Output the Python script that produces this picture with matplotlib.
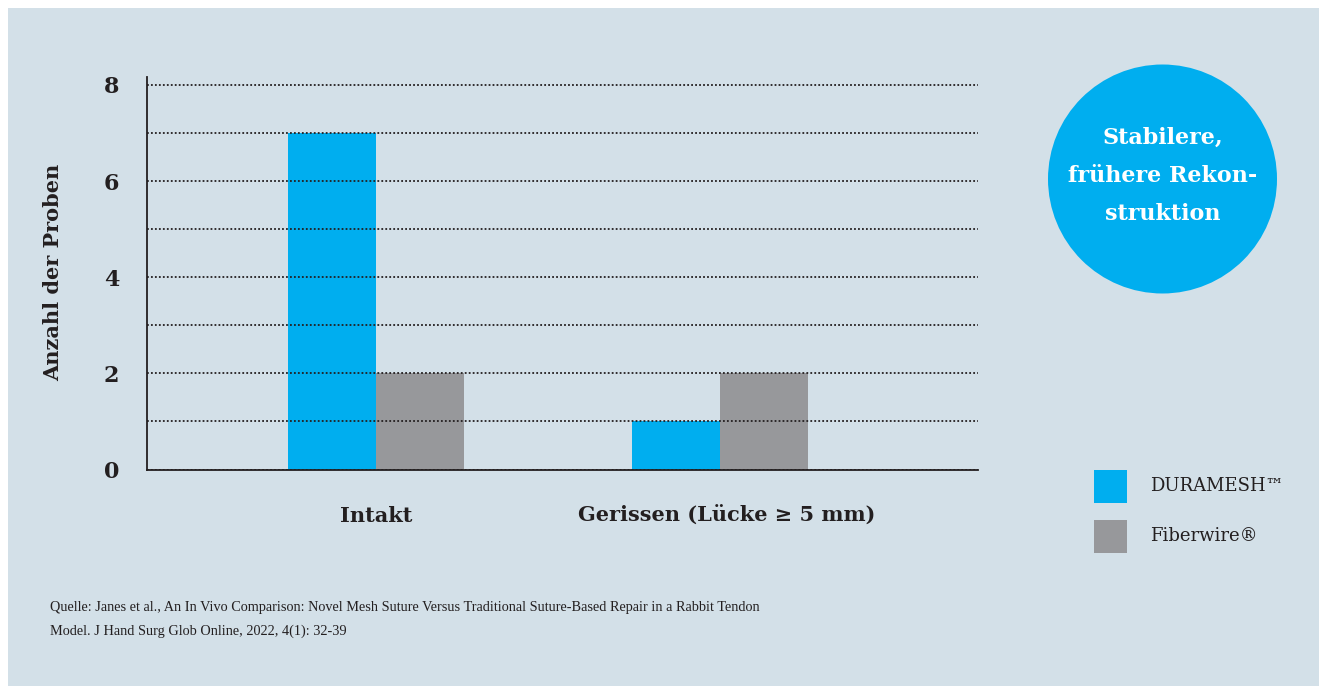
import matplotlib
matplotlib.use("Agg")
import matplotlib.pyplot as plt
from matplotlib.patches import Rectangle, Ellipse
import matplotlib.transforms as mtransforms
import numpy as np

# data
categories = ["Intakt", "Gerissen (Lücke ≥ 5 mm)"]
duramesh = [7, 1]
fiberwire = [2, 2]
series_names = ["DURAMESH™", "Fiberwire®"]
y_labels = [0, 2, 4, 6, 8]

BG = "#d3e0e8"
BLUE = "#00aeef"
GREY = "#97989b"
INK = "#231f20"
SERIF = ["DejaVu Serif"]

W, H = 1319, 686
fig = plt.figure(figsize=(W / 100, H / 100), dpi=100, facecolor="white")

# light panel behind everything
fig.add_artist(Rectangle((8 / W, 0), 1 - 8 / W, 1 - 8 / H, transform=fig.transFigure,
                         facecolor=BG, edgecolor="none", zorder=0))

# axes: left 147px, right 978px, baseline 469.5px, top 77px
ax = fig.add_axes([147 / W, 1 - 469.5 / H, (978 - 147) / W, (469.5 - 77) / H])
ax.set_facecolor("none")

x = np.arange(len(categories))
bw = 88 / 344
b1 = ax.bar(x - bw / 2, duramesh, bw, color=BLUE, label=series_names[0], zorder=1)
b2 = ax.bar(x + bw / 2, fiberwire, bw, color=GREY, label=series_names[1], zorder=1)

ax.set_xlim(-(376 - 147) / 344, 1 + (978 - 720) / 344)
ax.set_ylim(0, (469.5 - 77) / 48.07)

ax.set_yticks(y_labels)
ax.set_yticks([1, 3, 5, 7], minor=True)
ax.grid(axis="y", which="both", color=INK, linestyle=(0, (1, 1.2)), linewidth=1.3, zorder=3)
ax.set_axisbelow(False)

for s in ["top", "right"]:
    ax.spines[s].set_visible(False)
for s in ["left", "bottom"]:
    ax.spines[s].set_color(INK)
    ax.spines[s].set_linewidth(1.3)
    ax.spines[s].set_zorder(4)

ax.tick_params(axis="y", which="both", length=0, pad=20)
ax.tick_params(axis="x", length=0, pad=26)
for t in ax.get_yticklabels():
    t.set_fontfamily(SERIF)
    t.set_fontweight("bold")
    t.set_fontsize(16)
    t.set_color(INK)
ax.set_xticks(x)
ax.set_xticklabels(categories, fontfamily=SERIF, fontweight="bold", fontsize=15, color=INK)
# second category label sits a little right of its group centre
lab = ax.get_xticklabels()[1]
lab.set_transform(lab.get_transform() + mtransforms.ScaledTranslation(7 / 100, 0, fig.dpi_scale_trans))

ax.set_ylabel("Anzahl der Proben", fontfamily=SERIF, fontweight="bold", fontsize=15, color=INK)
ax.yaxis.set_label_coords(-(147 - 63) / 831, 0.503)

# blue circle with claim
fig.add_artist(Ellipse((1162.5 / W, 1 - 179 / H), 229 / W, 229 / H, transform=fig.transFigure,
                       facecolor=BLUE, edgecolor="none", zorder=2))
fig.text(1162.5 / W, 1 - 176 / H, "Stabilere,\nfrühere Rekon-\nstruktion", ha="center", va="center",
         fontfamily=SERIF, fontweight="bold", fontsize=16, color="white", linespacing=1.95, zorder=3)

# legend (drawn by hand: square swatches)
for i, (name, bars) in enumerate(zip(series_names, [b1, b2])):
    top = 470 + i * 50
    fig.add_artist(Rectangle((1094 / W, 1 - (top + 33) / H), 33 / W, 33 / H, transform=fig.transFigure,
                             facecolor=bars.patches[0].get_facecolor(), edgecolor="none", zorder=2))
    fig.text(1150 / W, 1 - (top + 16) / H, name, ha="left", va="center",
             fontfamily=SERIF, fontsize=13, color=INK)

# source note
fig.text(50 / W, 1 - 608 / H,
         "Quelle: Janes et al., An In Vivo Comparison: Novel Mesh Suture Versus Traditional Suture-Based Repair in a Rabbit Tendon",
         ha="left", va="center", fontfamily=["Liberation Serif"], fontsize=10.3, color=INK)
fig.text(50 / W, 1 - 631 / H,
         "Model. J Hand Surg Glob Online, 2022, 4(1): 32-39",
         ha="left", va="center", fontfamily=["Liberation Serif"], fontsize=10.3, color=INK)

fig.savefig("out.png", dpi=100, facecolor="white")
